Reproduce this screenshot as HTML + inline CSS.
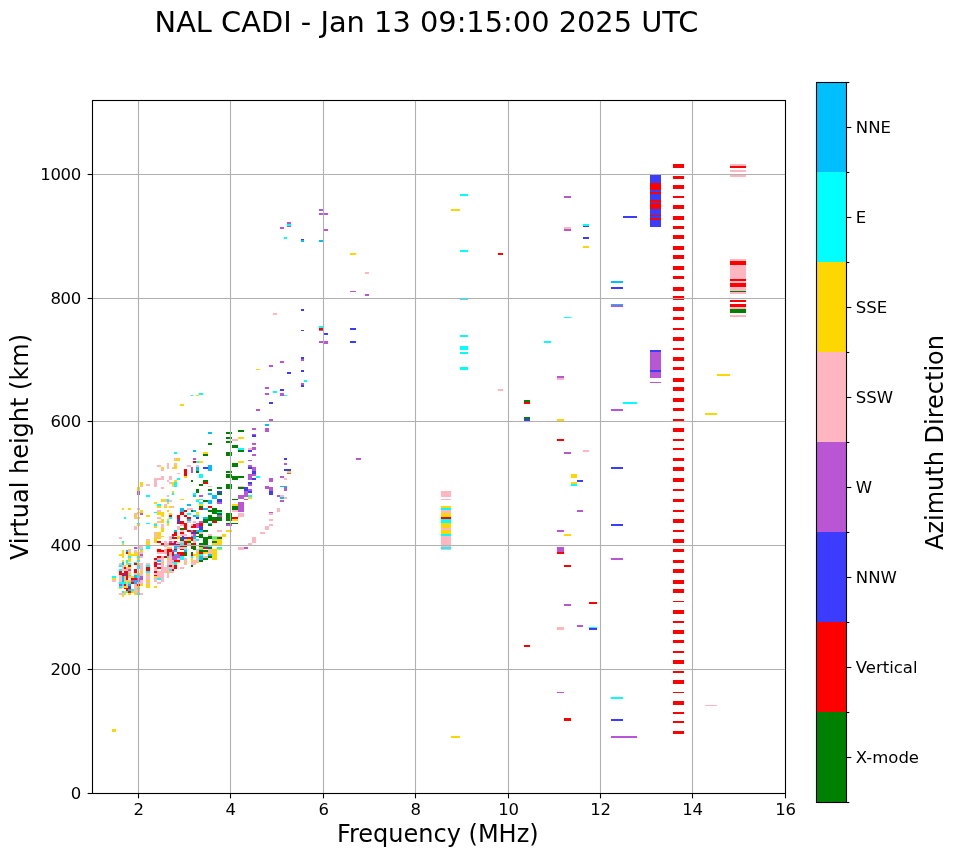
<!DOCTYPE html>
<html><head><meta charset="utf-8"><title>NAL CADI ionogram</title>
<style>html,body{margin:0;padding:0;background:#fff}svg{display:block}text{font-family:"DejaVu Sans","Liberation Sans",sans-serif;fill:#000}</style></head><body>
<svg width="958" height="857" viewBox="0 0 958 857">
<rect width="958" height="857" fill="#fff"/>
<g shape-rendering="crispEdges">
<rect x="319" y="209" width="4" height="2" fill="#ba55d3"/>
<rect x="319" y="213" width="9" height="2" fill="#ba55d3"/>
<rect x="287" y="222" width="4" height="2" fill="#ba55d3"/>
<rect x="287" y="224" width="4" height="2" fill="#00ffff"/>
<rect x="287" y="226" width="4" height="1" fill="#ba55d3"/>
<rect x="280" y="227" width="4" height="2" fill="#ba55d3"/>
<rect x="324" y="229" width="4" height="2" fill="#ba55d3"/>
<rect x="284" y="237" width="3" height="2" fill="#00ffff"/>
<rect x="301" y="239" width="3" height="1" fill="#3c3cff"/>
<rect x="301" y="240" width="3" height="2" fill="#00bfff"/>
<rect x="319" y="240" width="4" height="2" fill="#00bfff"/>
<rect x="350" y="253" width="6" height="2" fill="#ffd700"/>
<rect x="365" y="272" width="4" height="2" fill="#ffb6c1"/>
<rect x="460" y="194" width="8" height="2" fill="#00ffff"/>
<rect x="451" y="209" width="9" height="2" fill="#ffd700"/>
<rect x="460" y="250" width="8" height="2" fill="#00ffff"/>
<rect x="498" y="253" width="5" height="2" fill="#ff0000"/>
<rect x="564" y="196" width="7" height="2" fill="#ba55d3"/>
<rect x="623" y="216" width="14" height="2" fill="#3c3cff"/>
<rect x="583" y="224" width="6" height="2" fill="#00ffff"/>
<rect x="583" y="226" width="6" height="1" fill="#3c3cff"/>
<rect x="564" y="227" width="7" height="2" fill="#ffb6c1"/>
<rect x="564" y="229" width="7" height="2" fill="#ba55d3"/>
<rect x="583" y="237" width="6" height="2" fill="#3c3cff"/>
<rect x="583" y="246" width="6" height="2" fill="#ffd700"/>
<rect x="673" y="164" width="11" height="4" fill="#ff0000"/>
<rect x="673" y="176" width="11" height="3" fill="#ff0000"/>
<rect x="673" y="185" width="11" height="4" fill="#ff0000"/>
<rect x="673" y="196" width="11" height="2" fill="#ff0000"/>
<rect x="673" y="205" width="11" height="4" fill="#ff0000"/>
<rect x="673" y="216" width="11" height="4" fill="#ff0000"/>
<rect x="673" y="226" width="11" height="3" fill="#ff0000"/>
<rect x="673" y="235" width="11" height="4" fill="#ff0000"/>
<rect x="673" y="246" width="11" height="4" fill="#ff0000"/>
<rect x="673" y="255" width="11" height="4" fill="#ff0000"/>
<rect x="650" y="175" width="11" height="52" fill="#3c3cff"/>
<rect x="650" y="183" width="11" height="7" fill="#ff0000"/>
<rect x="650" y="192" width="11" height="2" fill="#ff0000"/>
<rect x="650" y="200" width="11" height="2" fill="#ff0000"/>
<rect x="650" y="203" width="11" height="6" fill="#ff0000"/>
<rect x="650" y="215" width="11" height="1" fill="#ff0000"/>
<rect x="650" y="218" width="11" height="2" fill="#ff0000"/>
<rect x="730" y="164" width="16" height="2" fill="#ffb6c1"/>
<rect x="730" y="166" width="16" height="2" fill="#ff0000"/>
<rect x="730" y="170" width="16" height="2" fill="#ffb6c1"/>
<rect x="730" y="174" width="16" height="3" fill="#ffb6c1"/>
<rect x="673" y="266" width="11" height="4" fill="#ff0000"/>
<rect x="673" y="276" width="11" height="3" fill="#ff0000"/>
<rect x="673" y="287" width="11" height="4" fill="#ff0000"/>
<rect x="673" y="296" width="11" height="4" fill="#ff0000"/>
<rect x="673" y="307" width="11" height="4" fill="#ff0000"/>
<rect x="673" y="317" width="11" height="3" fill="#ff0000"/>
<rect x="673" y="328" width="11" height="2" fill="#ff0000"/>
<rect x="673" y="337" width="11" height="4" fill="#ff0000"/>
<rect x="673" y="348" width="11" height="2" fill="#ff0000"/>
<rect x="673" y="357" width="11" height="4" fill="#ff0000"/>
<rect x="673" y="367" width="11" height="3" fill="#ff0000"/>
<rect x="730" y="259" width="16" height="35" fill="#ffb6c1"/>
<rect x="730" y="261" width="16" height="4" fill="#ff0000"/>
<rect x="730" y="279" width="16" height="2" fill="#ff0000"/>
<rect x="730" y="283" width="16" height="4" fill="#ff0000"/>
<rect x="730" y="291" width="16" height="1" fill="#008000"/>
<rect x="730" y="300" width="16" height="2" fill="#ff0000"/>
<rect x="730" y="304" width="16" height="3" fill="#ff0000"/>
<rect x="730" y="307" width="16" height="2" fill="#ffb6c1"/>
<rect x="730" y="309" width="16" height="4" fill="#008000"/>
<rect x="730" y="315" width="16" height="2" fill="#ffb6c1"/>
<rect x="650" y="350" width="11" height="2" fill="#3c3cff"/>
<rect x="650" y="352" width="11" height="18" fill="#ba55d3"/>
<rect x="650" y="370" width="11" height="2" fill="#3c3cff"/>
<rect x="650" y="372" width="11" height="6" fill="#ba55d3"/>
<rect x="717" y="374" width="13" height="2" fill="#ffd700"/>
<rect x="650" y="382" width="11" height="1" fill="#ba55d3"/>
<rect x="625" y="402" width="12" height="2" fill="#00ffff"/>
<rect x="705" y="413" width="12" height="2" fill="#ffd700"/>
<rect x="673" y="378" width="11" height="4" fill="#ff0000"/>
<rect x="673" y="387" width="11" height="4" fill="#ff0000"/>
<rect x="673" y="398" width="11" height="4" fill="#ff0000"/>
<rect x="673" y="408" width="11" height="3" fill="#ff0000"/>
<rect x="673" y="419" width="11" height="3" fill="#ff0000"/>
<rect x="673" y="428" width="11" height="4" fill="#ff0000"/>
<rect x="673" y="439" width="11" height="2" fill="#ff0000"/>
<rect x="673" y="448" width="11" height="2" fill="#ff0000"/>
<rect x="673" y="458" width="11" height="3" fill="#ff0000"/>
<rect x="673" y="467" width="11" height="4" fill="#ff0000"/>
<rect x="673" y="478" width="11" height="4" fill="#ff0000"/>
<rect x="673" y="489" width="11" height="2" fill="#ff0000"/>
<rect x="673" y="499" width="11" height="3" fill="#ff0000"/>
<rect x="673" y="510" width="11" height="2" fill="#ff0000"/>
<rect x="673" y="519" width="11" height="4" fill="#ff0000"/>
<rect x="673" y="530" width="11" height="2" fill="#ff0000"/>
<rect x="673" y="539" width="11" height="4" fill="#ff0000"/>
<rect x="673" y="549" width="11" height="3" fill="#ff0000"/>
<rect x="673" y="560" width="11" height="3" fill="#ff0000"/>
<rect x="673" y="569" width="11" height="4" fill="#ff0000"/>
<rect x="673" y="580" width="11" height="4" fill="#ff0000"/>
<rect x="673" y="589" width="11" height="4" fill="#ff0000"/>
<rect x="673" y="601" width="11" height="1" fill="#ff0000"/>
<rect x="673" y="610" width="11" height="4" fill="#ff0000"/>
<rect x="673" y="621" width="11" height="2" fill="#ff0000"/>
<rect x="673" y="630" width="11" height="4" fill="#ff0000"/>
<rect x="673" y="640" width="11" height="3" fill="#ff0000"/>
<rect x="673" y="651" width="11" height="2" fill="#ff0000"/>
<rect x="673" y="660" width="11" height="4" fill="#ff0000"/>
<rect x="673" y="671" width="11" height="2" fill="#ff0000"/>
<rect x="673" y="680" width="11" height="4" fill="#ff0000"/>
<rect x="673" y="692" width="11" height="1" fill="#ff0000"/>
<rect x="673" y="701" width="11" height="4" fill="#ff0000"/>
<rect x="705" y="705" width="12" height="1" fill="#ffb6c1"/>
<rect x="673" y="712" width="11" height="2" fill="#ff0000"/>
<rect x="673" y="721" width="11" height="2" fill="#ff0000"/>
<rect x="673" y="731" width="11" height="3" fill="#ff0000"/>
<rect x="611" y="281" width="12" height="2" fill="#00bfff"/>
<rect x="611" y="287" width="12" height="2" fill="#3c3cff"/>
<rect x="611" y="304" width="12" height="1" fill="#00bfff"/>
<rect x="611" y="305" width="12" height="2" fill="#ba55d3"/>
<rect x="564" y="317" width="7" height="1" fill="#00ffff"/>
<rect x="544" y="341" width="7" height="2" fill="#00ffff"/>
<rect x="557" y="376" width="7" height="2" fill="#ba55d3"/>
<rect x="557" y="378" width="7" height="2" fill="#ffb6c1"/>
<rect x="524" y="400" width="6" height="2" fill="#008000"/>
<rect x="524" y="402" width="6" height="2" fill="#ff0000"/>
<rect x="524" y="417" width="6" height="2" fill="#008000"/>
<rect x="524" y="419" width="6" height="2" fill="#3c3cff"/>
<rect x="557" y="419" width="7" height="3" fill="#ffd700"/>
<rect x="623" y="402" width="14" height="2" fill="#00ffff"/>
<rect x="611" y="409" width="12" height="2" fill="#ba55d3"/>
<rect x="557" y="439" width="7" height="2" fill="#ff0000"/>
<rect x="564" y="452" width="7" height="2" fill="#ba55d3"/>
<rect x="583" y="450" width="6" height="2" fill="#ffb6c1"/>
<rect x="611" y="467" width="12" height="2" fill="#3c3cff"/>
<rect x="571" y="474" width="6" height="4" fill="#ffd700"/>
<rect x="577" y="480" width="6" height="2" fill="#3c3cff"/>
<rect x="571" y="482" width="6" height="2" fill="#ffd700"/>
<rect x="571" y="484" width="6" height="2" fill="#00ffff"/>
<rect x="577" y="510" width="6" height="2" fill="#ba55d3"/>
<rect x="611" y="524" width="12" height="2" fill="#3c3cff"/>
<rect x="557" y="530" width="7" height="2" fill="#ba55d3"/>
<rect x="564" y="534" width="7" height="2" fill="#ffd700"/>
<rect x="557" y="547" width="7" height="5" fill="#ba55d3"/>
<rect x="557" y="552" width="7" height="2" fill="#ff0000"/>
<rect x="611" y="558" width="12" height="2" fill="#ba55d3"/>
<rect x="564" y="565" width="7" height="2" fill="#ff0000"/>
<rect x="589" y="602" width="8" height="2" fill="#ff0000"/>
<rect x="564" y="604" width="7" height="2" fill="#ba55d3"/>
<rect x="557" y="627" width="7" height="3" fill="#ffb6c1"/>
<rect x="577" y="625" width="6" height="2" fill="#ba55d3"/>
<rect x="589" y="627" width="8" height="1" fill="#00ffff"/>
<rect x="589" y="628" width="8" height="2" fill="#3c3cff"/>
<rect x="524" y="645" width="6" height="2" fill="#ff0000"/>
<rect x="557" y="692" width="7" height="1" fill="#ba55d3"/>
<rect x="611" y="697" width="12" height="2" fill="#00ffff"/>
<rect x="564" y="718" width="7" height="3" fill="#ff0000"/>
<rect x="611" y="719" width="12" height="2" fill="#3c3cff"/>
<rect x="611" y="736" width="26" height="2" fill="#ba55d3"/>
<rect x="460" y="298" width="8" height="2" fill="#00ffff"/>
<rect x="460" y="335" width="8" height="2" fill="#00ffff"/>
<rect x="460" y="346" width="8" height="4" fill="#00ffff"/>
<rect x="460" y="352" width="8" height="2" fill="#00ffff"/>
<rect x="460" y="367" width="8" height="3" fill="#00ffff"/>
<rect x="498" y="389" width="5" height="2" fill="#ffb6c1"/>
<rect x="441" y="491" width="10" height="6" fill="#ffb6c1"/>
<rect x="441" y="499" width="10" height="1" fill="#ffb6c1"/>
<rect x="441" y="506" width="10" height="2" fill="#ffd700"/>
<rect x="441" y="508" width="10" height="2" fill="#00ffff"/>
<rect x="441" y="510" width="10" height="3" fill="#ffb6c1"/>
<rect x="441" y="513" width="10" height="4" fill="#ffd700"/>
<rect x="441" y="517" width="10" height="2" fill="#ff0000"/>
<rect x="441" y="519" width="10" height="4" fill="#00ffff"/>
<rect x="441" y="523" width="10" height="5" fill="#ffd700"/>
<rect x="441" y="528" width="10" height="2" fill="#ffb6c1"/>
<rect x="441" y="530" width="10" height="4" fill="#ffd700"/>
<rect x="441" y="534" width="10" height="2" fill="#00ffff"/>
<rect x="441" y="536" width="10" height="11" fill="#ffb6c1"/>
<rect x="441" y="547" width="10" height="2" fill="#00ffff"/>
<rect x="441" y="549" width="10" height="1" fill="#ffb6c1"/>
<rect x="451" y="736" width="9" height="2" fill="#ffd700"/>
<rect x="350" y="291" width="6" height="1" fill="#ba55d3"/>
<rect x="365" y="294" width="4" height="2" fill="#ba55d3"/>
<rect x="301" y="309" width="3" height="2" fill="#3c3cff"/>
<rect x="273" y="313" width="4" height="2" fill="#ffb6c1"/>
<rect x="319" y="326" width="4" height="2" fill="#00ffff"/>
<rect x="319" y="328" width="4" height="2" fill="#ff0000"/>
<rect x="319" y="330" width="4" height="1" fill="#ba55d3"/>
<rect x="301" y="330" width="3" height="1" fill="#3c3cff"/>
<rect x="324" y="333" width="4" height="2" fill="#3c3cff"/>
<rect x="350" y="328" width="6" height="2" fill="#3c3cff"/>
<rect x="319" y="341" width="4" height="2" fill="#ba55d3"/>
<rect x="324" y="341" width="4" height="3" fill="#ba55d3"/>
<rect x="350" y="341" width="6" height="2" fill="#3c3cff"/>
<rect x="301" y="357" width="3" height="2" fill="#3c3cff"/>
<rect x="301" y="359" width="3" height="2" fill="#ba55d3"/>
<rect x="280" y="361" width="4" height="2" fill="#ba55d3"/>
<rect x="271" y="365" width="2" height="2" fill="#ba55d3"/>
<rect x="301" y="370" width="3" height="2" fill="#3c3cff"/>
<rect x="287" y="372" width="4" height="2" fill="#3c3cff"/>
<rect x="304" y="380" width="3" height="2" fill="#00ffff"/>
<rect x="301" y="383" width="3" height="2" fill="#ba55d3"/>
<rect x="301" y="385" width="3" height="2" fill="#3c3cff"/>
<rect x="280" y="389" width="4" height="2" fill="#3c3cff"/>
<rect x="273" y="391" width="4" height="2" fill="#00ffff"/>
<rect x="280" y="393" width="4" height="3" fill="#ba55d3"/>
<rect x="284" y="395" width="3" height="1" fill="#00ffff"/>
<rect x="356" y="458" width="5" height="2" fill="#ba55d3"/>
<rect x="284" y="458" width="3" height="2" fill="#3c3cff"/>
<rect x="284" y="463" width="3" height="2" fill="#ba55d3"/>
<rect x="284" y="469" width="7" height="2" fill="#3c3cff"/>
<rect x="287" y="471" width="4" height="2" fill="#ffd700"/>
<rect x="287" y="473" width="4" height="1" fill="#ba55d3"/>
<rect x="280" y="476" width="4" height="2" fill="#ba55d3"/>
<rect x="284" y="478" width="3" height="2" fill="#ffb6c1"/>
<rect x="280" y="486" width="7" height="1" fill="#00bfff"/>
<rect x="284" y="487" width="3" height="4" fill="#ba55d3"/>
<rect x="277" y="495" width="3" height="2" fill="#ba55d3"/>
<rect x="280" y="495" width="4" height="2" fill="#ffb6c1"/>
<rect x="280" y="497" width="4" height="2" fill="#00bfff"/>
<rect x="284" y="497" width="3" height="2" fill="#ffb6c1"/>
<rect x="265" y="387" width="4" height="2" fill="#ba55d3"/>
<rect x="265" y="393" width="4" height="2" fill="#ba55d3"/>
<rect x="269" y="402" width="4" height="2" fill="#3c3cff"/>
<rect x="256" y="409" width="4" height="2" fill="#ba55d3"/>
<rect x="269" y="419" width="4" height="2" fill="#ba55d3"/>
<rect x="265" y="424" width="4" height="2" fill="#00bfff"/>
<rect x="265" y="428" width="4" height="4" fill="#ba55d3"/>
<rect x="252" y="428" width="4" height="2" fill="#ba55d3"/>
<rect x="238" y="430" width="6" height="2" fill="#008000"/>
<rect x="226" y="432" width="6" height="2" fill="#008000"/>
<rect x="252" y="434" width="4" height="1" fill="#ba55d3"/>
<rect x="252" y="435" width="4" height="2" fill="#3c3cff"/>
<rect x="226" y="437" width="6" height="2" fill="#008000"/>
<rect x="238" y="437" width="6" height="2" fill="#ffd700"/>
<rect x="232" y="439" width="6" height="2" fill="#ffb6c1"/>
<rect x="226" y="441" width="6" height="2" fill="#008000"/>
<rect x="252" y="443" width="4" height="2" fill="#ba55d3"/>
<rect x="232" y="445" width="6" height="3" fill="#008000"/>
<rect x="238" y="448" width="6" height="2" fill="#00ffff"/>
<rect x="248" y="448" width="4" height="2" fill="#ffb6c1"/>
<rect x="252" y="447" width="4" height="3" fill="#ba55d3"/>
<rect x="238" y="450" width="6" height="2" fill="#008000"/>
<rect x="248" y="450" width="4" height="2" fill="#3c3cff"/>
<rect x="226" y="452" width="6" height="4" fill="#008000"/>
<rect x="252" y="454" width="4" height="2" fill="#ba55d3"/>
<rect x="248" y="460" width="4" height="1" fill="#ba55d3"/>
<rect x="238" y="461" width="6" height="2" fill="#ffd700"/>
<rect x="232" y="463" width="6" height="4" fill="#008000"/>
<rect x="248" y="465" width="4" height="2" fill="#ba55d3"/>
<rect x="248" y="467" width="4" height="2" fill="#3c3cff"/>
<rect x="252" y="467" width="4" height="4" fill="#ba55d3"/>
<rect x="252" y="471" width="4" height="3" fill="#3c3cff"/>
<rect x="226" y="471" width="6" height="2" fill="#008000"/>
<rect x="226" y="474" width="6" height="4" fill="#008000"/>
<rect x="232" y="476" width="12" height="2" fill="#008000"/>
<rect x="232" y="478" width="6" height="2" fill="#008000"/>
<rect x="248" y="474" width="4" height="6" fill="#ba55d3"/>
<rect x="252" y="474" width="4" height="2" fill="#ba55d3"/>
<rect x="256" y="476" width="4" height="2" fill="#00ffff"/>
<rect x="252" y="478" width="4" height="2" fill="#3c3cff"/>
<rect x="269" y="478" width="4" height="4" fill="#ba55d3"/>
<rect x="248" y="482" width="4" height="2" fill="#3c3cff"/>
<rect x="248" y="484" width="4" height="2" fill="#ba55d3"/>
<rect x="226" y="484" width="6" height="5" fill="#008000"/>
<rect x="238" y="486" width="6" height="1" fill="#ffb6c1"/>
<rect x="238" y="487" width="6" height="2" fill="#008000"/>
<rect x="244" y="487" width="4" height="4" fill="#3c3cff"/>
<rect x="217" y="487" width="5" height="2" fill="#008000"/>
<rect x="248" y="489" width="4" height="2" fill="#ba55d3"/>
<rect x="248" y="491" width="4" height="2" fill="#3c3cff"/>
<rect x="244" y="491" width="4" height="6" fill="#ba55d3"/>
<rect x="217" y="491" width="5" height="2" fill="#3c3cff"/>
<rect x="217" y="493" width="5" height="2" fill="#008000"/>
<rect x="265" y="486" width="4" height="3" fill="#ba55d3"/>
<rect x="269" y="487" width="4" height="4" fill="#ba55d3"/>
<rect x="269" y="491" width="4" height="4" fill="#3c3cff"/>
<rect x="212" y="495" width="5" height="4" fill="#00bfff"/>
<rect x="238" y="495" width="6" height="4" fill="#ba55d3"/>
<rect x="248" y="495" width="4" height="2" fill="#00ffff"/>
<rect x="248" y="497" width="4" height="2" fill="#ffd700"/>
<rect x="244" y="499" width="4" height="1" fill="#ba55d3"/>
<rect x="232" y="499" width="6" height="1" fill="#008000"/>
<rect x="217" y="499" width="5" height="1" fill="#3c3cff"/>
<rect x="217" y="499" width="5" height="3" fill="#3c3cff"/>
<rect x="217" y="502" width="5" height="2" fill="#ba55d3"/>
<rect x="280" y="500" width="4" height="2" fill="#ba55d3"/>
<rect x="232" y="504" width="6" height="2" fill="#ffd700"/>
<rect x="232" y="506" width="6" height="4" fill="#008000"/>
<rect x="232" y="510" width="6" height="2" fill="#ffb6c1"/>
<rect x="238" y="502" width="6" height="10" fill="#ba55d3"/>
<rect x="238" y="513" width="6" height="4" fill="#ffb6c1"/>
<rect x="212" y="508" width="5" height="6" fill="#008000"/>
<rect x="217" y="510" width="5" height="2" fill="#008000"/>
<rect x="217" y="512" width="5" height="1" fill="#00ffff"/>
<rect x="217" y="513" width="5" height="2" fill="#008000"/>
<rect x="217" y="515" width="5" height="2" fill="#ba55d3"/>
<rect x="226" y="513" width="6" height="8" fill="#008000"/>
<rect x="232" y="517" width="6" height="2" fill="#ff0000"/>
<rect x="232" y="519" width="6" height="2" fill="#ffd700"/>
<rect x="212" y="517" width="10" height="4" fill="#008000"/>
<rect x="212" y="521" width="5" height="2" fill="#ff0000"/>
<rect x="226" y="523" width="12" height="1" fill="#008000"/>
<rect x="226" y="524" width="6" height="2" fill="#ba55d3"/>
<rect x="217" y="530" width="5" height="2" fill="#ffb6c1"/>
<rect x="226" y="530" width="6" height="2" fill="#ffd700"/>
<rect x="222" y="534" width="4" height="3" fill="#ffd700"/>
<rect x="212" y="536" width="10" height="10" fill="#ffd700"/>
<rect x="217" y="536" width="5" height="1" fill="#ffb6c1"/>
<rect x="212" y="537" width="5" height="2" fill="#00ffff"/>
<rect x="217" y="537" width="5" height="2" fill="#008000"/>
<rect x="212" y="541" width="5" height="2" fill="#008000"/>
<rect x="217" y="547" width="5" height="2" fill="#00ffff"/>
<rect x="217" y="549" width="5" height="1" fill="#ffd700"/>
<rect x="212" y="549" width="5" height="11" fill="#ffd700"/>
<rect x="277" y="508" width="3" height="4" fill="#ffb6c1"/>
<rect x="269" y="512" width="4" height="1" fill="#ba55d3"/>
<rect x="269" y="513" width="4" height="2" fill="#ffb6c1"/>
<rect x="269" y="519" width="4" height="2" fill="#ffb6c1"/>
<rect x="269" y="524" width="4" height="2" fill="#ffb6c1"/>
<rect x="265" y="526" width="4" height="4" fill="#ffb6c1"/>
<rect x="260" y="532" width="5" height="2" fill="#ffb6c1"/>
<rect x="252" y="537" width="4" height="6" fill="#ffb6c1"/>
<rect x="248" y="543" width="4" height="2" fill="#ffb6c1"/>
<rect x="238" y="547" width="6" height="3" fill="#ffb6c1"/>
<rect x="244" y="547" width="4" height="2" fill="#ba55d3"/>
<rect x="191" y="395" width="2" height="1" fill="#00ffff"/>
<rect x="196" y="395" width="3" height="1" fill="#ffd700"/>
<rect x="199" y="393" width="4" height="2" fill="#00ffff"/>
<rect x="180" y="404" width="4" height="2" fill="#ffd700"/>
<rect x="208" y="432" width="4" height="2" fill="#00bfff"/>
<rect x="208" y="443" width="4" height="2" fill="#008000"/>
<rect x="193" y="450" width="3" height="2" fill="#00bfff"/>
<rect x="174" y="452" width="3" height="2" fill="#00ffff"/>
<rect x="203" y="452" width="5" height="2" fill="#ffd700"/>
<rect x="203" y="454" width="5" height="2" fill="#008000"/>
<rect x="174" y="458" width="3" height="2" fill="#ffb6c1"/>
<rect x="177" y="458" width="3" height="3" fill="#ffd700"/>
<rect x="174" y="460" width="3" height="1" fill="#ffd700"/>
<rect x="193" y="458" width="3" height="2" fill="#ba55d3"/>
<rect x="193" y="461" width="3" height="2" fill="#ff0000"/>
<rect x="196" y="461" width="3" height="2" fill="#00ffff"/>
<rect x="199" y="461" width="4" height="2" fill="#ffd700"/>
<rect x="167" y="463" width="2" height="6" fill="#ffb6c1"/>
<rect x="174" y="463" width="3" height="2" fill="#ffb6c1"/>
<rect x="174" y="465" width="3" height="4" fill="#ffd700"/>
<rect x="172" y="467" width="2" height="2" fill="#ffb6c1"/>
<rect x="157" y="465" width="4" height="2" fill="#ffb6c1"/>
<rect x="161" y="467" width="3" height="2" fill="#ffd700"/>
<rect x="161" y="469" width="3" height="2" fill="#ffb6c1"/>
<rect x="187" y="465" width="4" height="2" fill="#ffb6c1"/>
<rect x="196" y="465" width="3" height="2" fill="#ffb6c1"/>
<rect x="196" y="467" width="3" height="4" fill="#00bfff"/>
<rect x="196" y="471" width="3" height="2" fill="#008000"/>
<rect x="191" y="467" width="2" height="6" fill="#ba55d3"/>
<rect x="203" y="467" width="5" height="2" fill="#3c3cff"/>
<rect x="208" y="465" width="4" height="6" fill="#00bfff"/>
<rect x="184" y="469" width="3" height="7" fill="#ff0000"/>
<rect x="184" y="476" width="3" height="2" fill="#ffd700"/>
<rect x="177" y="473" width="3" height="1" fill="#ffb6c1"/>
<rect x="199" y="474" width="4" height="4" fill="#00ffff"/>
<rect x="161" y="476" width="3" height="2" fill="#ffb6c1"/>
<rect x="154" y="478" width="10" height="2" fill="#ffb6c1"/>
<rect x="154" y="480" width="3" height="7" fill="#ffb6c1"/>
<rect x="169" y="476" width="3" height="4" fill="#ffb6c1"/>
<rect x="177" y="478" width="3" height="2" fill="#00ffff"/>
<rect x="167" y="480" width="2" height="2" fill="#ffb6c1"/>
<rect x="174" y="480" width="3" height="2" fill="#ffd700"/>
<rect x="169" y="482" width="3" height="2" fill="#ffb6c1"/>
<rect x="172" y="482" width="2" height="4" fill="#ffd700"/>
<rect x="174" y="482" width="3" height="5" fill="#00ffff"/>
<rect x="172" y="486" width="2" height="1" fill="#ffb6c1"/>
<rect x="191" y="480" width="2" height="2" fill="#008000"/>
<rect x="203" y="480" width="5" height="2" fill="#008000"/>
<rect x="203" y="482" width="5" height="2" fill="#ff0000"/>
<rect x="199" y="484" width="4" height="2" fill="#008000"/>
<rect x="208" y="486" width="4" height="1" fill="#ffb6c1"/>
<rect x="161" y="487" width="3" height="2" fill="#ffb6c1"/>
<rect x="196" y="489" width="3" height="4" fill="#008000"/>
<rect x="208" y="489" width="4" height="2" fill="#008000"/>
<rect x="172" y="491" width="2" height="2" fill="#ffd700"/>
<rect x="172" y="493" width="2" height="2" fill="#00ffff"/>
<rect x="193" y="493" width="3" height="2" fill="#00ffff"/>
<rect x="193" y="495" width="3" height="2" fill="#00bfff"/>
<rect x="208" y="493" width="4" height="2" fill="#00bfff"/>
<rect x="199" y="495" width="4" height="2" fill="#ba55d3"/>
<rect x="167" y="495" width="2" height="2" fill="#ffb6c1"/>
<rect x="161" y="499" width="6" height="1" fill="#ffd700"/>
<rect x="167" y="499" width="2" height="1" fill="#00ffff"/>
<rect x="180" y="499" width="4" height="1" fill="#ffd700"/>
<rect x="196" y="499" width="3" height="1" fill="#ffd700"/>
<rect x="199" y="499" width="4" height="1" fill="#00ffff"/>
<rect x="140" y="482" width="3" height="4" fill="#ffd700"/>
<rect x="140" y="486" width="3" height="1" fill="#ffb6c1"/>
<rect x="146" y="484" width="4" height="2" fill="#ffb6c1"/>
<rect x="137" y="487" width="3" height="4" fill="#ffd700"/>
<rect x="137" y="491" width="3" height="4" fill="#ba55d3"/>
<rect x="146" y="495" width="4" height="2" fill="#00ffff"/>
<rect x="122" y="508" width="2" height="2" fill="#ffd700"/>
<rect x="128" y="508" width="3" height="2" fill="#ffd700"/>
<rect x="137" y="508" width="3" height="2" fill="#ffb6c1"/>
<rect x="140" y="510" width="3" height="3" fill="#ffd700"/>
<rect x="137" y="512" width="3" height="1" fill="#ffd700"/>
<rect x="140" y="513" width="3" height="2" fill="#ba55d3"/>
<rect x="134" y="513" width="4" height="2" fill="#ffb6c1"/>
<rect x="134" y="515" width="3" height="2" fill="#ffd700"/>
<rect x="134" y="517" width="3" height="2" fill="#ffb6c1"/>
<rect x="137" y="517" width="3" height="2" fill="#ffd700"/>
<rect x="146" y="515" width="4" height="2" fill="#ffd700"/>
<rect x="124" y="517" width="2" height="2" fill="#00ffff"/>
<rect x="137" y="523" width="3" height="1" fill="#00ffff"/>
<rect x="137" y="524" width="3" height="2" fill="#ffd700"/>
<rect x="146" y="523" width="4" height="1" fill="#00ffff"/>
<rect x="134" y="526" width="3" height="4" fill="#ffb6c1"/>
<rect x="119" y="537" width="3" height="2" fill="#ffb6c1"/>
<rect x="122" y="541" width="2" height="2" fill="#00ffff"/>
<rect x="122" y="543" width="2" height="2" fill="#ffd700"/>
<rect x="146" y="539" width="4" height="2" fill="#ffb6c1"/>
<rect x="146" y="541" width="4" height="4" fill="#ffd700"/>
<rect x="146" y="546" width="4" height="3" fill="#00ffff"/>
<rect x="134" y="547" width="3" height="2" fill="#ba55d3"/>
<rect x="137" y="547" width="1" height="2" fill="#ffb6c1"/>
<rect x="139" y="546" width="4" height="3" fill="#ffb6c1"/>
<rect x="140" y="549" width="3" height="1" fill="#00ffff"/>
<rect x="140" y="550" width="3" height="2" fill="#ffd700"/>
<rect x="128" y="549" width="3" height="1" fill="#ffd700"/>
<rect x="128" y="550" width="3" height="2" fill="#ffb6c1"/>
<rect x="126" y="550" width="2" height="2" fill="#00bfff"/>
<rect x="126" y="552" width="2" height="2" fill="#ff0000"/>
<rect x="134" y="550" width="3" height="2" fill="#ffb6c1"/>
<rect x="122" y="550" width="2" height="8" fill="#ffd700"/>
<rect x="119" y="554" width="3" height="2" fill="#ffd700"/>
<rect x="128" y="552" width="3" height="4" fill="#ffd700"/>
<rect x="131" y="554" width="3" height="2" fill="#ffd700"/>
<rect x="134" y="552" width="3" height="4" fill="#ffd700"/>
<rect x="137" y="552" width="6" height="2" fill="#ffb6c1"/>
<rect x="137" y="554" width="3" height="2" fill="#ffd700"/>
<rect x="140" y="554" width="3" height="2" fill="#ba55d3"/>
<rect x="128" y="556" width="3" height="2" fill="#00ffff"/>
<rect x="137" y="556" width="3" height="2" fill="#00ffff"/>
<rect x="140" y="556" width="3" height="2" fill="#ffb6c1"/>
<rect x="128" y="558" width="3" height="2" fill="#ffd700"/>
<rect x="137" y="558" width="3" height="2" fill="#ffd700"/>
<rect x="112" y="729" width="4" height="3" fill="#ffd700"/>
<rect x="161" y="500" width="3" height="2" fill="#ffd700"/>
<rect x="164" y="500" width="3" height="2" fill="#ffb6c1"/>
<rect x="167" y="500" width="2" height="2" fill="#00ffff"/>
<rect x="169" y="500" width="3" height="2" fill="#ffb6c1"/>
<rect x="196" y="500" width="3" height="2" fill="#00ffff"/>
<rect x="203" y="500" width="5" height="2" fill="#008000"/>
<rect x="208" y="500" width="4" height="4" fill="#00bfff"/>
<rect x="154" y="502" width="3" height="2" fill="#ffd700"/>
<rect x="167" y="502" width="2" height="2" fill="#ffd700"/>
<rect x="199" y="502" width="4" height="2" fill="#00ffff"/>
<rect x="157" y="504" width="4" height="2" fill="#00ffff"/>
<rect x="164" y="504" width="3" height="2" fill="#ffb6c1"/>
<rect x="187" y="504" width="4" height="2" fill="#00bfff"/>
<rect x="199" y="504" width="4" height="2" fill="#ffd700"/>
<rect x="157" y="506" width="4" height="2" fill="#ffd700"/>
<rect x="164" y="506" width="3" height="2" fill="#ffd700"/>
<rect x="169" y="506" width="3" height="2" fill="#ffd700"/>
<rect x="172" y="506" width="2" height="2" fill="#ffb6c1"/>
<rect x="199" y="506" width="4" height="2" fill="#008000"/>
<rect x="208" y="506" width="4" height="2" fill="#ff0000"/>
<rect x="180" y="508" width="4" height="4" fill="#00bfff"/>
<rect x="187" y="508" width="6" height="2" fill="#ffb6c1"/>
<rect x="199" y="508" width="4" height="2" fill="#ff0000"/>
<rect x="203" y="508" width="5" height="2" fill="#00bfff"/>
<rect x="157" y="510" width="4" height="2" fill="#ffb6c1"/>
<rect x="167" y="510" width="2" height="2" fill="#ffd700"/>
<rect x="184" y="510" width="3" height="2" fill="#ff0000"/>
<rect x="191" y="510" width="2" height="2" fill="#008000"/>
<rect x="193" y="510" width="3" height="2" fill="#00bfff"/>
<rect x="208" y="510" width="4" height="2" fill="#008000"/>
<rect x="154" y="512" width="3" height="1" fill="#00ffff"/>
<rect x="157" y="512" width="7" height="2" fill="#ffd700"/>
<rect x="161" y="514" width="3" height="3" fill="#ffd700"/>
<rect x="180" y="512" width="4" height="3" fill="#ff0000"/>
<rect x="187" y="513" width="4" height="2" fill="#00ffff"/>
<rect x="169" y="513" width="3" height="2" fill="#ffd700"/>
<rect x="196" y="512" width="3" height="3" fill="#ffd700"/>
<rect x="169" y="515" width="3" height="2" fill="#ff0000"/>
<rect x="177" y="515" width="3" height="4" fill="#ff0000"/>
<rect x="184" y="515" width="3" height="2" fill="#ff0000"/>
<rect x="193" y="515" width="3" height="2" fill="#00bfff"/>
<rect x="196" y="515" width="3" height="2" fill="#00ffff"/>
<rect x="208" y="515" width="4" height="4" fill="#008000"/>
<rect x="157" y="517" width="4" height="2" fill="#ffb6c1"/>
<rect x="169" y="517" width="3" height="2" fill="#00ffff"/>
<rect x="187" y="517" width="4" height="2" fill="#ff0000"/>
<rect x="196" y="517" width="3" height="2" fill="#3c3cff"/>
<rect x="203" y="517" width="5" height="2" fill="#00bfff"/>
<rect x="161" y="519" width="3" height="4" fill="#ffd700"/>
<rect x="167" y="519" width="2" height="2" fill="#ffd700"/>
<rect x="177" y="519" width="3" height="4" fill="#3c3cff"/>
<rect x="187" y="519" width="4" height="2" fill="#00bfff"/>
<rect x="203" y="519" width="5" height="4" fill="#008000"/>
<rect x="208" y="519" width="4" height="2" fill="#008000"/>
<rect x="157" y="521" width="4" height="2" fill="#ffb6c1"/>
<rect x="167" y="521" width="2" height="2" fill="#00ffff"/>
<rect x="180" y="521" width="4" height="3" fill="#ff0000"/>
<rect x="187" y="521" width="4" height="2" fill="#ffb6c1"/>
<rect x="193" y="521" width="3" height="2" fill="#ffb6c1"/>
<rect x="199" y="521" width="4" height="2" fill="#ba55d3"/>
<rect x="154" y="523" width="3" height="1" fill="#ffd700"/>
<rect x="154" y="524" width="3" height="2" fill="#00ffff"/>
<rect x="167" y="523" width="2" height="3" fill="#ffd700"/>
<rect x="177" y="523" width="10" height="1" fill="#ff0000"/>
<rect x="180" y="524" width="4" height="2" fill="#ffb6c1"/>
<rect x="184" y="524" width="3" height="6" fill="#ff0000"/>
<rect x="161" y="524" width="3" height="4" fill="#ffb6c1"/>
<rect x="196" y="523" width="3" height="5" fill="#ba55d3"/>
<rect x="199" y="523" width="4" height="3" fill="#ff0000"/>
<rect x="193" y="524" width="3" height="4" fill="#ff0000"/>
<rect x="191" y="524" width="2" height="2" fill="#ffb6c1"/>
<rect x="191" y="526" width="5" height="2" fill="#ff0000"/>
<rect x="208" y="523" width="4" height="1" fill="#00bfff"/>
<rect x="208" y="524" width="4" height="2" fill="#008000"/>
<rect x="154" y="526" width="3" height="2" fill="#ffd700"/>
<rect x="177" y="526" width="3" height="4" fill="#ffb6c1"/>
<rect x="199" y="526" width="4" height="4" fill="#3c3cff"/>
<rect x="161" y="528" width="3" height="4" fill="#ffd700"/>
<rect x="180" y="528" width="4" height="2" fill="#008000"/>
<rect x="174" y="530" width="3" height="2" fill="#00bfff"/>
<rect x="180" y="530" width="4" height="2" fill="#ffb6c1"/>
<rect x="187" y="530" width="4" height="2" fill="#ff0000"/>
<rect x="191" y="530" width="2" height="2" fill="#00bfff"/>
<rect x="193" y="530" width="3" height="2" fill="#ff0000"/>
<rect x="196" y="530" width="7" height="2" fill="#00bfff"/>
<rect x="203" y="530" width="5" height="2" fill="#008000"/>
<rect x="154" y="532" width="3" height="5" fill="#ffb6c1"/>
<rect x="157" y="532" width="4" height="4" fill="#ffd700"/>
<rect x="174" y="532" width="3" height="2" fill="#ff0000"/>
<rect x="180" y="532" width="4" height="2" fill="#ff0000"/>
<rect x="191" y="532" width="2" height="2" fill="#ff0000"/>
<rect x="193" y="532" width="3" height="2" fill="#3c3cff"/>
<rect x="196" y="532" width="3" height="2" fill="#008000"/>
<rect x="199" y="532" width="4" height="2" fill="#ffb6c1"/>
<rect x="172" y="534" width="5" height="2" fill="#ff0000"/>
<rect x="180" y="534" width="7" height="2" fill="#ffb6c1"/>
<rect x="191" y="534" width="2" height="2" fill="#ffb6c1"/>
<rect x="193" y="534" width="3" height="2" fill="#ba55d3"/>
<rect x="199" y="534" width="4" height="4" fill="#008000"/>
<rect x="208" y="534" width="4" height="2" fill="#ffb6c1"/>
<rect x="157" y="536" width="4" height="1" fill="#ffb6c1"/>
<rect x="161" y="536" width="3" height="1" fill="#ffd700"/>
<rect x="154" y="537" width="7" height="2" fill="#ffd700"/>
<rect x="169" y="536" width="3" height="4" fill="#ffb6c1"/>
<rect x="172" y="536" width="2" height="1" fill="#00bfff"/>
<rect x="172" y="537" width="5" height="2" fill="#ff0000"/>
<rect x="177" y="536" width="3" height="3" fill="#ffd700"/>
<rect x="180" y="537" width="7" height="2" fill="#3c3cff"/>
<rect x="187" y="537" width="6" height="2" fill="#ff0000"/>
<rect x="193" y="536" width="3" height="3" fill="#00bfff"/>
<rect x="196" y="536" width="3" height="1" fill="#008000"/>
<rect x="203" y="537" width="9" height="2" fill="#008000"/>
<rect x="154" y="539" width="3" height="4" fill="#ffd700"/>
<rect x="180" y="539" width="4" height="2" fill="#008000"/>
<rect x="184" y="539" width="3" height="2" fill="#ffb6c1"/>
<rect x="187" y="539" width="4" height="2" fill="#ffd700"/>
<rect x="191" y="539" width="2" height="2" fill="#ff0000"/>
<rect x="193" y="539" width="3" height="4" fill="#ffb6c1"/>
<rect x="196" y="539" width="3" height="2" fill="#00ffff"/>
<rect x="203" y="539" width="5" height="6" fill="#008000"/>
<rect x="157" y="541" width="4" height="2" fill="#ff0000"/>
<rect x="164" y="541" width="3" height="4" fill="#ffb6c1"/>
<rect x="169" y="541" width="3" height="2" fill="#ba55d3"/>
<rect x="172" y="541" width="2" height="2" fill="#ffb6c1"/>
<rect x="174" y="541" width="3" height="2" fill="#ff0000"/>
<rect x="180" y="541" width="4" height="2" fill="#ffb6c1"/>
<rect x="184" y="541" width="3" height="4" fill="#ff0000"/>
<rect x="187" y="541" width="4" height="2" fill="#008000"/>
<rect x="161" y="543" width="3" height="2" fill="#ff0000"/>
<rect x="167" y="543" width="2" height="2" fill="#ffb6c1"/>
<rect x="169" y="543" width="5" height="2" fill="#ff0000"/>
<rect x="174" y="543" width="3" height="2" fill="#3c3cff"/>
<rect x="177" y="543" width="3" height="2" fill="#ff0000"/>
<rect x="180" y="543" width="4" height="2" fill="#00ffff"/>
<rect x="187" y="543" width="4" height="2" fill="#ffb6c1"/>
<rect x="191" y="543" width="2" height="2" fill="#008000"/>
<rect x="193" y="543" width="3" height="2" fill="#ff0000"/>
<rect x="199" y="543" width="4" height="2" fill="#008000"/>
<rect x="164" y="546" width="3" height="1" fill="#ffb6c1"/>
<rect x="174" y="546" width="6" height="1" fill="#00bfff"/>
<rect x="174" y="547" width="3" height="2" fill="#00bfff"/>
<rect x="180" y="546" width="4" height="1" fill="#ff0000"/>
<rect x="184" y="546" width="3" height="1" fill="#008000"/>
<rect x="191" y="546" width="2" height="1" fill="#ff0000"/>
<rect x="199" y="546" width="4" height="1" fill="#008000"/>
<rect x="203" y="546" width="5" height="1" fill="#00bfff"/>
<rect x="208" y="546" width="4" height="1" fill="#00ffff"/>
<rect x="167" y="547" width="2" height="2" fill="#ffd700"/>
<rect x="169" y="547" width="3" height="2" fill="#ffb6c1"/>
<rect x="177" y="547" width="10" height="2" fill="#ffb6c1"/>
<rect x="191" y="547" width="5" height="2" fill="#008000"/>
<rect x="199" y="547" width="4" height="2" fill="#ffd700"/>
<rect x="203" y="547" width="5" height="2" fill="#ff0000"/>
<rect x="208" y="547" width="4" height="2" fill="#008000"/>
<rect x="157" y="549" width="4" height="3" fill="#ff0000"/>
<rect x="161" y="550" width="3" height="2" fill="#ff0000"/>
<rect x="164" y="549" width="3" height="3" fill="#ffb6c1"/>
<rect x="167" y="549" width="5" height="3" fill="#ff0000"/>
<rect x="172" y="550" width="2" height="2" fill="#ba55d3"/>
<rect x="174" y="550" width="3" height="2" fill="#00bfff"/>
<rect x="180" y="549" width="4" height="1" fill="#ff0000"/>
<rect x="184" y="549" width="3" height="3" fill="#00ffff"/>
<rect x="193" y="549" width="3" height="1" fill="#008000"/>
<rect x="196" y="549" width="3" height="3" fill="#ffb6c1"/>
<rect x="199" y="549" width="4" height="1" fill="#00ffff"/>
<rect x="199" y="550" width="9" height="2" fill="#008000"/>
<rect x="208" y="549" width="4" height="5" fill="#ffb6c1"/>
<rect x="157" y="552" width="10" height="2" fill="#ffb6c1"/>
<rect x="167" y="552" width="2" height="4" fill="#ff0000"/>
<rect x="169" y="552" width="3" height="8" fill="#ffb6c1"/>
<rect x="172" y="552" width="2" height="4" fill="#ff0000"/>
<rect x="177" y="552" width="7" height="2" fill="#ff0000"/>
<rect x="184" y="552" width="3" height="4" fill="#008000"/>
<rect x="191" y="552" width="2" height="2" fill="#008000"/>
<rect x="196" y="552" width="3" height="6" fill="#ffd700"/>
<rect x="199" y="552" width="4" height="2" fill="#ff0000"/>
<rect x="203" y="552" width="5" height="2" fill="#ffd700"/>
<rect x="180" y="554" width="4" height="2" fill="#ff0000"/>
<rect x="177" y="554" width="3" height="2" fill="#ba55d3"/>
<rect x="174" y="554" width="3" height="2" fill="#00bfff"/>
<rect x="191" y="554" width="2" height="2" fill="#ff0000"/>
<rect x="193" y="554" width="3" height="2" fill="#ffd700"/>
<rect x="199" y="554" width="4" height="6" fill="#00ffff"/>
<rect x="208" y="554" width="4" height="2" fill="#00bfff"/>
<rect x="203" y="556" width="5" height="2" fill="#ffb6c1"/>
<rect x="157" y="556" width="4" height="2" fill="#ff0000"/>
<rect x="161" y="556" width="3" height="4" fill="#ffb6c1"/>
<rect x="164" y="556" width="3" height="2" fill="#ff0000"/>
<rect x="167" y="556" width="2" height="2" fill="#00ffff"/>
<rect x="172" y="556" width="8" height="4" fill="#ba55d3"/>
<rect x="180" y="556" width="4" height="4" fill="#00ffff"/>
<rect x="191" y="556" width="2" height="2" fill="#00ffff"/>
<rect x="203" y="558" width="5" height="2" fill="#008000"/>
<rect x="154" y="558" width="3" height="2" fill="#ff0000"/>
<rect x="167" y="558" width="2" height="2" fill="#ffd700"/>
<rect x="184" y="558" width="3" height="2" fill="#ffb6c1"/>
<rect x="191" y="558" width="2" height="2" fill="#ffd700"/>
<rect x="182" y="536" width="2" height="1" fill="#ff0000"/>
<rect x="191" y="536" width="2" height="1" fill="#ba55d3"/>
<rect x="208" y="536" width="4" height="3" fill="#008000"/>
<rect x="184" y="550" width="3" height="2" fill="#00bfff"/>
<rect x="199" y="556" width="4" height="4" fill="#00bfff"/>
<rect x="208" y="556" width="4" height="2" fill="#008000"/>
<rect x="193" y="546" width="3" height="1" fill="#008000"/>
<rect x="196" y="558" width="3" height="2" fill="#ffb6c1"/>
<rect x="174" y="549" width="3" height="1" fill="#ff0000"/>
<rect x="177" y="558" width="3" height="2" fill="#ffb6c1"/>
<rect x="157" y="558" width="4" height="2" fill="#ffb6c1"/>
<rect x="176" y="542" width="4" height="2" fill="#ffb6c1"/>
<rect x="157" y="514" width="4" height="1" fill="#ffd700"/>
<rect x="122" y="560" width="2" height="2" fill="#ffd700"/>
<rect x="126" y="560" width="2" height="3" fill="#00ffff"/>
<rect x="128" y="560" width="3" height="2" fill="#ffd700"/>
<rect x="137" y="560" width="3" height="2" fill="#00ffff"/>
<rect x="119" y="563" width="3" height="2" fill="#ffb6c1"/>
<rect x="122" y="562" width="2" height="3" fill="#00bfff"/>
<rect x="126" y="563" width="2" height="2" fill="#ffd700"/>
<rect x="128" y="563" width="3" height="2" fill="#00ffff"/>
<rect x="134" y="562" width="3" height="1" fill="#00ffff"/>
<rect x="134" y="563" width="3" height="2" fill="#ff0000"/>
<rect x="137" y="563" width="3" height="2" fill="#ffd700"/>
<rect x="140" y="563" width="3" height="8" fill="#ffb6c1"/>
<rect x="146" y="563" width="4" height="2" fill="#ffb6c1"/>
<rect x="119" y="565" width="3" height="2" fill="#00ffff"/>
<rect x="122" y="565" width="2" height="6" fill="#ffb6c1"/>
<rect x="124" y="565" width="2" height="2" fill="#ffd700"/>
<rect x="128" y="565" width="3" height="2" fill="#ff0000"/>
<rect x="137" y="565" width="3" height="4" fill="#00ffff"/>
<rect x="146" y="565" width="4" height="2" fill="#00ffff"/>
<rect x="124" y="567" width="2" height="2" fill="#ff0000"/>
<rect x="128" y="567" width="3" height="2" fill="#ffd700"/>
<rect x="126" y="567" width="2" height="2" fill="#ffb6c1"/>
<rect x="146" y="567" width="4" height="4" fill="#ff0000"/>
<rect x="119" y="569" width="3" height="2" fill="#00ffff"/>
<rect x="128" y="569" width="3" height="2" fill="#ba55d3"/>
<rect x="134" y="569" width="3" height="4" fill="#ff0000"/>
<rect x="124" y="569" width="4" height="2" fill="#ffb6c1"/>
<rect x="119" y="571" width="3" height="4" fill="#ff0000"/>
<rect x="122" y="573" width="2" height="3" fill="#ff0000"/>
<rect x="124" y="571" width="4" height="2" fill="#ff0000"/>
<rect x="128" y="571" width="3" height="2" fill="#ffb6c1"/>
<rect x="140" y="571" width="3" height="2" fill="#ffd700"/>
<rect x="146" y="571" width="4" height="2" fill="#00ffff"/>
<rect x="124" y="573" width="2" height="3" fill="#3c3cff"/>
<rect x="126" y="573" width="2" height="7" fill="#ff0000"/>
<rect x="128" y="573" width="3" height="2" fill="#ffd700"/>
<rect x="134" y="573" width="3" height="2" fill="#ffb6c1"/>
<rect x="137" y="573" width="3" height="2" fill="#ffd700"/>
<rect x="140" y="573" width="3" height="3" fill="#ffb6c1"/>
<rect x="146" y="573" width="4" height="2" fill="#ffb6c1"/>
<rect x="112" y="576" width="4" height="2" fill="#00ffff"/>
<rect x="119" y="575" width="3" height="7" fill="#ffb6c1"/>
<rect x="122" y="576" width="2" height="6" fill="#00bfff"/>
<rect x="128" y="575" width="3" height="1" fill="#00ffff"/>
<rect x="124" y="576" width="2" height="2" fill="#ffd700"/>
<rect x="128" y="576" width="3" height="2" fill="#ffb6c1"/>
<rect x="131" y="576" width="3" height="2" fill="#ffd700"/>
<rect x="134" y="575" width="3" height="3" fill="#00bfff"/>
<rect x="137" y="575" width="3" height="3" fill="#00ffff"/>
<rect x="140" y="576" width="3" height="4" fill="#ba55d3"/>
<rect x="146" y="575" width="4" height="1" fill="#ffd700"/>
<rect x="146" y="576" width="4" height="4" fill="#ffb6c1"/>
<rect x="112" y="578" width="4" height="2" fill="#ffd700"/>
<rect x="124" y="578" width="2" height="2" fill="#ffb6c1"/>
<rect x="131" y="578" width="6" height="2" fill="#ff0000"/>
<rect x="137" y="578" width="3" height="4" fill="#ba55d3"/>
<rect x="112" y="580" width="4" height="2" fill="#ffb6c1"/>
<rect x="124" y="580" width="2" height="2" fill="#ffd700"/>
<rect x="126" y="580" width="2" height="2" fill="#ffb6c1"/>
<rect x="128" y="580" width="3" height="2" fill="#ffd700"/>
<rect x="131" y="580" width="3" height="2" fill="#ba55d3"/>
<rect x="134" y="580" width="3" height="4" fill="#00bfff"/>
<rect x="140" y="580" width="3" height="4" fill="#ffb6c1"/>
<rect x="146" y="580" width="4" height="2" fill="#ffd700"/>
<rect x="119" y="582" width="7" height="2" fill="#00ffff"/>
<rect x="126" y="582" width="2" height="2" fill="#ffd700"/>
<rect x="128" y="582" width="3" height="2" fill="#00ffff"/>
<rect x="131" y="582" width="3" height="2" fill="#ff0000"/>
<rect x="137" y="582" width="3" height="2" fill="#ffb6c1"/>
<rect x="146" y="582" width="4" height="2" fill="#ffb6c1"/>
<rect x="119" y="584" width="3" height="2" fill="#ba55d3"/>
<rect x="122" y="584" width="2" height="2" fill="#00ffff"/>
<rect x="124" y="584" width="2" height="2" fill="#ff0000"/>
<rect x="126" y="584" width="2" height="2" fill="#ffb6c1"/>
<rect x="128" y="584" width="3" height="2" fill="#00bfff"/>
<rect x="134" y="584" width="3" height="9" fill="#ffb6c1"/>
<rect x="137" y="584" width="3" height="2" fill="#ff0000"/>
<rect x="140" y="584" width="3" height="2" fill="#ffd700"/>
<rect x="146" y="584" width="4" height="4" fill="#ffd700"/>
<rect x="119" y="586" width="3" height="2" fill="#00ffff"/>
<rect x="122" y="586" width="2" height="2" fill="#ffb6c1"/>
<rect x="124" y="586" width="4" height="2" fill="#ffd700"/>
<rect x="128" y="586" width="3" height="2" fill="#3c3cff"/>
<rect x="137" y="586" width="3" height="2" fill="#ffd700"/>
<rect x="119" y="588" width="3" height="1" fill="#ffd700"/>
<rect x="124" y="588" width="7" height="1" fill="#ff0000"/>
<rect x="126" y="589" width="2" height="2" fill="#ff0000"/>
<rect x="128" y="589" width="3" height="2" fill="#00bfff"/>
<rect x="131" y="589" width="3" height="2" fill="#00ffff"/>
<rect x="137" y="588" width="3" height="1" fill="#00ffff"/>
<rect x="137" y="589" width="3" height="2" fill="#ffd700"/>
<rect x="122" y="591" width="2" height="2" fill="#00ffff"/>
<rect x="124" y="591" width="2" height="4" fill="#ffd700"/>
<rect x="126" y="591" width="2" height="2" fill="#00ffff"/>
<rect x="128" y="591" width="3" height="2" fill="#ff0000"/>
<rect x="131" y="591" width="3" height="2" fill="#ffd700"/>
<rect x="137" y="591" width="3" height="2" fill="#ffb6c1"/>
<rect x="119" y="593" width="5" height="2" fill="#ffb6c1"/>
<rect x="128" y="593" width="3" height="2" fill="#ffd700"/>
<rect x="134" y="593" width="3" height="2" fill="#ffd700"/>
<rect x="137" y="593" width="3" height="2" fill="#00ffff"/>
<rect x="140" y="593" width="3" height="2" fill="#ffb6c1"/>
<rect x="122" y="595" width="2" height="2" fill="#ffd700"/>
<rect x="154" y="560" width="3" height="2" fill="#ffb6c1"/>
<rect x="157" y="560" width="4" height="2" fill="#00bfff"/>
<rect x="161" y="560" width="3" height="2" fill="#ffb6c1"/>
<rect x="167" y="560" width="7" height="5" fill="#ffb6c1"/>
<rect x="174" y="560" width="6" height="2" fill="#ff0000"/>
<rect x="184" y="560" width="3" height="2" fill="#ffb6c1"/>
<rect x="191" y="560" width="2" height="2" fill="#ffd700"/>
<rect x="193" y="560" width="6" height="2" fill="#ffb6c1"/>
<rect x="199" y="560" width="4" height="2" fill="#008000"/>
<rect x="154" y="562" width="3" height="5" fill="#ff0000"/>
<rect x="157" y="563" width="4" height="2" fill="#ba55d3"/>
<rect x="161" y="563" width="3" height="19" fill="#ffb6c1"/>
<rect x="161" y="562" width="3" height="1" fill="#ffd700"/>
<rect x="172" y="562" width="5" height="1" fill="#00ffff"/>
<rect x="174" y="563" width="3" height="2" fill="#00ffff"/>
<rect x="177" y="562" width="3" height="1" fill="#ffd700"/>
<rect x="184" y="562" width="3" height="1" fill="#ffd700"/>
<rect x="184" y="563" width="3" height="2" fill="#ffb6c1"/>
<rect x="191" y="562" width="5" height="3" fill="#ffb6c1"/>
<rect x="196" y="562" width="3" height="1" fill="#ffd700"/>
<rect x="167" y="565" width="2" height="2" fill="#00ffff"/>
<rect x="169" y="565" width="3" height="2" fill="#ff0000"/>
<rect x="172" y="565" width="2" height="4" fill="#ffb6c1"/>
<rect x="174" y="565" width="3" height="4" fill="#ff0000"/>
<rect x="191" y="565" width="2" height="2" fill="#008000"/>
<rect x="154" y="567" width="3" height="4" fill="#ffb6c1"/>
<rect x="157" y="567" width="4" height="2" fill="#ff0000"/>
<rect x="180" y="567" width="4" height="2" fill="#ffb6c1"/>
<rect x="164" y="567" width="5" height="6" fill="#ffb6c1"/>
<rect x="169" y="567" width="3" height="2" fill="#ffb6c1"/>
<rect x="169" y="569" width="3" height="2" fill="#00ffff"/>
<rect x="172" y="569" width="2" height="2" fill="#ff0000"/>
<rect x="157" y="571" width="4" height="7" fill="#ffb6c1"/>
<rect x="154" y="571" width="3" height="2" fill="#ff0000"/>
<rect x="167" y="571" width="2" height="2" fill="#ffd700"/>
<rect x="169" y="571" width="5" height="2" fill="#ffb6c1"/>
<rect x="154" y="573" width="3" height="2" fill="#ffb6c1"/>
<rect x="154" y="575" width="3" height="1" fill="#ff0000"/>
<rect x="154" y="576" width="3" height="2" fill="#ffd700"/>
<rect x="167" y="573" width="2" height="5" fill="#ffb6c1"/>
<rect x="154" y="578" width="3" height="4" fill="#ffb6c1"/>
<rect x="157" y="578" width="4" height="2" fill="#00ffff"/>
<rect x="157" y="582" width="4" height="2" fill="#ffb6c1"/>
<rect x="154" y="586" width="3" height="2" fill="#ffd700"/>
<rect x="256" y="369" width="4" height="1" fill="#ffd700"/>
<rect x="269" y="365" width="4" height="2" fill="#ba55d3"/>
</g>
<g stroke="#b0b0b0" stroke-width="1.11" fill="none">
<line x1="138.50" y1="100.5" x2="138.50" y2="793.5"/>
<line x1="230.50" y1="100.5" x2="230.50" y2="793.5"/>
<line x1="323.50" y1="100.5" x2="323.50" y2="793.5"/>
<line x1="415.50" y1="100.5" x2="415.50" y2="793.5"/>
<line x1="508.50" y1="100.5" x2="508.50" y2="793.5"/>
<line x1="600.50" y1="100.5" x2="600.50" y2="793.5"/>
<line x1="692.50" y1="100.5" x2="692.50" y2="793.5"/>
<line x1="92.5" y1="669.50" x2="785.5" y2="669.50"/>
<line x1="92.5" y1="545.50" x2="785.5" y2="545.50"/>
<line x1="92.5" y1="421.50" x2="785.5" y2="421.50"/>
<line x1="92.5" y1="298.50" x2="785.5" y2="298.50"/>
<line x1="92.5" y1="174.50" x2="785.5" y2="174.50"/>
</g>
<g stroke="#000" stroke-width="1.11" fill="none">
<line x1="138.50" y1="793.5" x2="138.50" y2="798.36"/>
<line x1="230.50" y1="793.5" x2="230.50" y2="798.36"/>
<line x1="323.50" y1="793.5" x2="323.50" y2="798.36"/>
<line x1="415.50" y1="793.5" x2="415.50" y2="798.36"/>
<line x1="508.50" y1="793.5" x2="508.50" y2="798.36"/>
<line x1="600.50" y1="793.5" x2="600.50" y2="798.36"/>
<line x1="692.50" y1="793.5" x2="692.50" y2="798.36"/>
<line x1="785.50" y1="793.5" x2="785.50" y2="798.36"/>
<line x1="87.64" y1="793.50" x2="92.5" y2="793.50"/>
<line x1="87.64" y1="669.50" x2="92.5" y2="669.50"/>
<line x1="87.64" y1="545.50" x2="92.5" y2="545.50"/>
<line x1="87.64" y1="421.50" x2="92.5" y2="421.50"/>
<line x1="87.64" y1="298.50" x2="92.5" y2="298.50"/>
<line x1="87.64" y1="174.50" x2="92.5" y2="174.50"/>
<rect x="92.5" y="100.5" width="693" height="693"/>
</g>
<g font-size="16.5" letter-spacing="-0.3">
<text x="138.50" y="815" text-anchor="middle">2</text>
<text x="230.50" y="815" text-anchor="middle">4</text>
<text x="323.50" y="815" text-anchor="middle">6</text>
<text x="415.50" y="815" text-anchor="middle">8</text>
<text x="508.50" y="815" text-anchor="middle">10</text>
<text x="600.50" y="815" text-anchor="middle">12</text>
<text x="692.50" y="815" text-anchor="middle">14</text>
<text x="785.50" y="815" text-anchor="middle">16</text>
<text x="81" y="798.70" text-anchor="end">0</text>
<text x="81" y="674.70" text-anchor="end">200</text>
<text x="81" y="550.70" text-anchor="end">400</text>
<text x="81" y="426.70" text-anchor="end">600</text>
<text x="81" y="303.70" text-anchor="end">800</text>
<text x="81" y="179.70" text-anchor="end">1000</text>
</g>
<text x="437.8" y="841.8" font-size="24" text-anchor="middle">Frequency (MHz)</text>
<text transform="translate(27.5,447) rotate(-90)" font-size="24" text-anchor="middle">Virtual height (km)</text>
<text x="426.5" y="31.8" font-size="28.85" text-anchor="middle">NAL CADI - Jan 13 09:15:00 2025 UTC</text>
<g shape-rendering="crispEdges">
<rect x="816" y="82" width="31" height="90" fill="#00bfff"/>
<rect x="816" y="172" width="31" height="90" fill="#00ffff"/>
<rect x="816" y="262" width="31" height="90" fill="#ffd700"/>
<rect x="816" y="352" width="31" height="90" fill="#ffb6c1"/>
<rect x="816" y="442" width="31" height="90" fill="#ba55d3"/>
<rect x="816" y="532" width="31" height="90" fill="#3c3cff"/>
<rect x="816" y="622" width="31" height="90" fill="#ff0000"/>
<rect x="816" y="712" width="31" height="91" fill="#008000"/>
</g>
<g stroke="#000" stroke-width="1.11" fill="none">
<line x1="846.5" y1="82.5" x2="849.28" y2="82.5"/>
<line x1="846.5" y1="172.5" x2="849.28" y2="172.5"/>
<line x1="846.5" y1="262.5" x2="849.28" y2="262.5"/>
<line x1="846.5" y1="352.5" x2="849.28" y2="352.5"/>
<line x1="846.5" y1="442.5" x2="849.28" y2="442.5"/>
<line x1="846.5" y1="532.5" x2="849.28" y2="532.5"/>
<line x1="846.5" y1="622.5" x2="849.28" y2="622.5"/>
<line x1="846.5" y1="712.5" x2="849.28" y2="712.5"/>
<line x1="846.5" y1="802.5" x2="849.28" y2="802.5"/>
<line x1="846.5" y1="127.5" x2="851.36" y2="127.5"/>
<line x1="846.5" y1="217.5" x2="851.36" y2="217.5"/>
<line x1="846.5" y1="307.5" x2="851.36" y2="307.5"/>
<line x1="846.5" y1="397.5" x2="851.36" y2="397.5"/>
<line x1="846.5" y1="487.5" x2="851.36" y2="487.5"/>
<line x1="846.5" y1="577.5" x2="851.36" y2="577.5"/>
<line x1="846.5" y1="667.5" x2="851.36" y2="667.5"/>
<line x1="846.5" y1="757.5" x2="851.36" y2="757.5"/>
<rect x="816.5" y="82.5" width="30" height="720"/>
</g>
<g font-size="16.5">
<text x="855.8" y="132.5">NNE</text>
<text x="855.8" y="222.5">E</text>
<text x="855.8" y="312.5">SSE</text>
<text x="855.8" y="402.5">SSW</text>
<text x="855.8" y="492.5">W</text>
<text x="855.8" y="582.5">NNW</text>
<text x="855.8" y="672.5">Vertical</text>
<text x="855.8" y="762.5">X-mode</text>
</g>
<text transform="translate(943,442.5) rotate(-90)" font-size="24" text-anchor="middle">Azimuth Direction</text>
</svg>
</body></html>
